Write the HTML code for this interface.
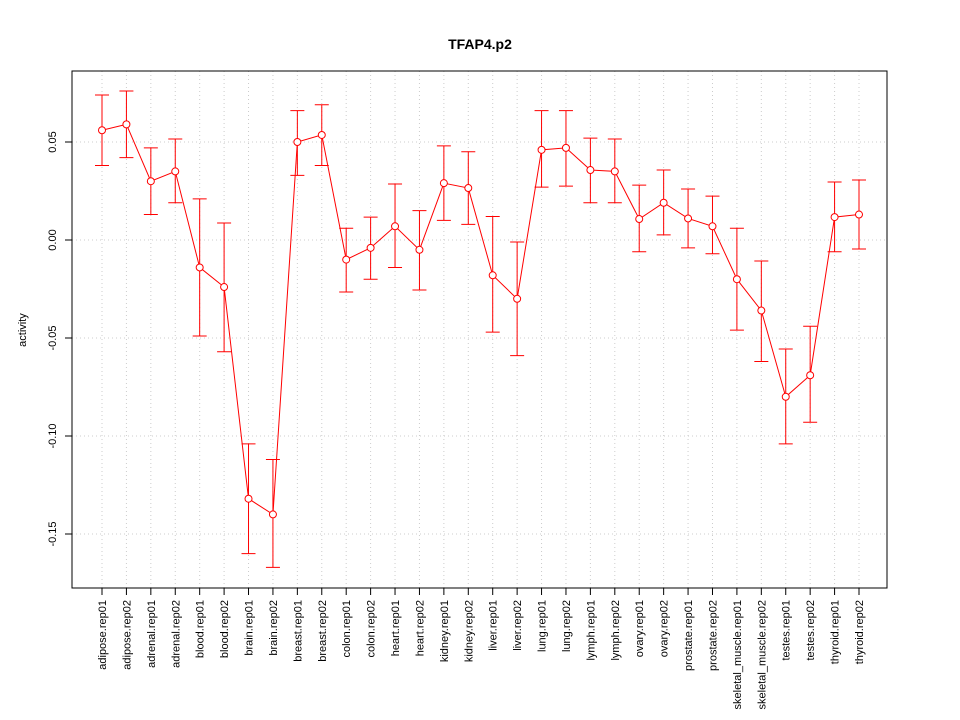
<!DOCTYPE html>
<html><head><meta charset="utf-8"><style>
body{margin:0;background:#fff;}
svg{display:block;font-family:"Liberation Sans",sans-serif;}
</style></head><body>
<svg id="chart" width="960" height="720" xmlns="http://www.w3.org/2000/svg">
<rect width="960" height="720" fill="#fff"/>
<text x="480" y="49" text-anchor="middle" font-size="14" font-weight="bold">TFAP4.p2</text>
<text transform="translate(26,330) rotate(-90)" text-anchor="middle" font-size="11">activity</text>
<g id="grid"></g><g id="axes"></g><g id="marks"></g>
<rect x="72" y="71" width="815" height="517" fill="none" stroke="#000"/>
</svg>
<script>
const categories=["adipose.rep01","adipose.rep02","adrenal.rep01","adrenal.rep02","blood.rep01","blood.rep02","brain.rep01","brain.rep02","breast.rep01","breast.rep02","colon.rep01","colon.rep02","heart.rep01","heart.rep02","kidney.rep01","kidney.rep02","liver.rep01","liver.rep02","lung.rep01","lung.rep02","lymph.rep01","lymph.rep02","ovary.rep01","ovary.rep02","prostate.rep01","prostate.rep02","skeletal_muscle.rep01","skeletal_muscle.rep02","testes.rep01","testes.rep02","thyroid.rep01","thyroid.rep02"];
const values=[0.056,0.059,0.030,0.035,-0.014,-0.024,-0.132,-0.140,0.050,0.0536,-0.010,-0.004,0.007,-0.005,0.029,0.0265,-0.018,-0.030,0.046,0.047,0.0357,0.035,0.0107,0.019,0.011,0.007,-0.020,-0.036,-0.080,-0.069,0.0117,0.013];
const upper=[0.074,0.076,0.047,0.0515,0.021,0.0087,-0.104,-0.112,0.066,0.069,0.006,0.0117,0.0286,0.015,0.048,0.045,0.012,-0.001,0.066,0.066,0.052,0.0515,0.028,0.0357,0.026,0.0224,0.006,-0.0107,-0.0556,-0.044,0.0296,0.0306];
const lower=[0.038,0.042,0.013,0.019,-0.049,-0.057,-0.160,-0.167,0.033,0.038,-0.0265,-0.020,-0.014,-0.0255,0.010,0.008,-0.047,-0.059,0.027,0.0275,0.019,0.019,-0.006,0.0026,-0.004,-0.007,-0.046,-0.062,-0.104,-0.093,-0.006,-0.0046];
const yTicks=[0.05,0.00,-0.05,-0.10,-0.15];
const yTickLabels=["0.05","0.00","-0.05","-0.10","-0.15"];
const NS="http://www.w3.org/2000/svg";
const X0=102,X1=859,Y0=240,PX=1960;
const xs=i=>X0+i*(X1-X0)/(categories.length-1);
const ys=v=>Y0-v*PX;
function mk(p,tag,at){const e=document.createElementNS(NS,tag);for(const k in at)e.setAttribute(k,at[k]);p.appendChild(e);return e;}
const grid=document.getElementById('grid'),axes=document.getElementById('axes'),marks=document.getElementById('marks');
categories.forEach((c,i)=>{
 const x=xs(i);
 const g=mk(grid,'line',{x1:x,x2:x,y1:71,y2:588,stroke:'#ccc','stroke-dasharray':'1,3'});
 
 
 const t=mk(axes,'line',{x1:x,x2:x,y1:588,y2:595,stroke:'#000'});
 
 
 const l=mk(axes,'text',{transform:`translate(${x+4},600) rotate(-90)`,'text-anchor':'end','font-size':'11'});
 l.textContent=c;
 
 
});
yTicks.forEach((v,i)=>{
 const y=ys(v);
 const g=mk(grid,'line',{x1:72,x2:887,y1:y,y2:y,stroke:'#ccc','stroke-dasharray':'1,3'});
 
 
 const t=mk(axes,'line',{x1:65,x2:72,y1:y,y2:y,stroke:'#000'});
 
 
 const l=mk(axes,'text',{transform:`translate(56,${y}) rotate(-90)`,'text-anchor':'middle','font-size':'11'});
 l.textContent=yTickLabels[i];
 
 
});
const line=mk(marks,'polyline',{points:values.map((v,i)=>xs(i)+','+ys(v)).join(' '),fill:'none',stroke:'#f00'});


values.forEach((v,i)=>{
 const x=xs(i);
 const e=mk(marks,'path',{d:`M${x-7},${ys(upper[i])}H${x+7}M${x},${ys(upper[i])}V${ys(lower[i])}M${x-7},${ys(lower[i])}H${x+7}`,stroke:'#f00',fill:'none'});
 
 
 const p=mk(marks,'circle',{cx:x,cy:ys(v),r:3.5,fill:'#fff',stroke:'#f00'});
 
 
});
</script>
</body></html>
